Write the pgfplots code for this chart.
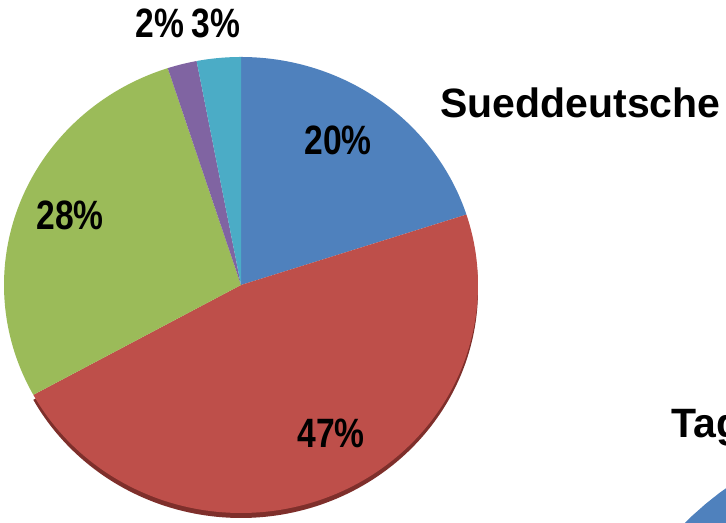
\documentclass[border=0pt]{standalone}
\usepackage{pgfplots}
\pgfplotsset{compat=1.18}
\usepackage{fontspec}
\setmainfont{Liberation Sans}
\newfontfamily\labfont{Liberation Sans}[FakeStretch=0.82]
\newfontfamily\catfont{Liberation Sans}[FakeStretch=1.0]
\definecolor{cBlue}{HTML}{4F81BD}
\definecolor{cRed}{HTML}{BE4F4A}
\definecolor{cGreen}{HTML}{9BBB59}
\definecolor{cPurple}{HTML}{8064A2}
\definecolor{cCyan}{HTML}{4BACC6}
\definecolor{cRim}{HTML}{7E2F2B}
% pie geometry in pixels
\def\cx{241}\def\cy{238}\def\rx{237}\def\ry{228}
% #1 colour, #2 cumulative percent before slice, #3 percent of slice, #4 y shift
\newcommand\slice[4]{%
  \pgfmathsetmacro\sa{90-3.6*(#2)}%
  \pgfmathsetmacro\sb{90-3.6*((#2)+(#3))}%
  \pgfmathsetmacro\ccy{\cy-(#4)}%
  \edef\doslice{\noexpand\addplot[fill=#1,draw=none,domain=\sb:\sa,samples=120,variable=\noexpand\t]
    ({\cx+\rx*cos(\noexpand\t)},{\ccy+\ry*sin(\noexpand\t)}) -- (axis cs:\cx,\ccy) -- cycle;}%
  \doslice
}
\begin{document}
\begin{tikzpicture}[x=1bp,y=1bp]
\useasboundingbox (0,0) rectangle (726,523);
\clip (0,0) rectangle (726,523);
\fill[white] (0,0) rectangle (726,523);
\begin{axis}[at={(0,0)},anchor=south west,scale only axis,
  width=726bp,height=523bp,xmin=0,xmax=726,ymin=0,ymax=523,
  hide axis,clip=false]
% shares (percent): Sueddeutsche 20, 47, 28, 2, 3
\slice{cRim}{20}{47}{5}
\slice{cBlue}{0}{20}{0}
\slice{cRed}{20}{47}{0}
\slice{cGreen}{67}{28}{0}
\slice{cPurple}{95}{2}{0}
\slice{cCyan}{97}{3}{0}
% neighbouring pie, cut off at the corner
\addplot[fill=cBlue,draw=none,domain=0:360,samples=120,variable=\t]
  ({920+334*cos(t)},{-237+334*sin(t)}) -- cycle;
\node[anchor=base,font=\labfont\bfseries\fontsize{41bp}{45bp}\selectfont] at (axis cs:338,368) {20\%};
\node[anchor=base,font=\labfont\bfseries\fontsize{41bp}{45bp}\selectfont] at (axis cs:331,75) {47\%};
\node[anchor=base,font=\labfont\bfseries\fontsize{41bp}{45bp}\selectfont] at (axis cs:70,293) {28\%};
\node[anchor=base,font=\labfont\bfseries\fontsize{41bp}{45bp}\selectfont] at (axis cs:160,485) {2\%};
\node[anchor=base,font=\labfont\bfseries\fontsize{41bp}{45bp}\selectfont] at (axis cs:216,485) {3\%};
\node[anchor=base west,inner sep=0pt,font=\catfont\bfseries\fontsize{41bp}{45bp}\selectfont] at (axis cs:440,405) {Sueddeutsche};
\node[anchor=base west,inner sep=0pt,font=\catfont\bfseries\fontsize{41bp}{45bp}\selectfont] at (axis cs:671,85) {Tag};
\end{axis}
\end{tikzpicture}
\end{document}
